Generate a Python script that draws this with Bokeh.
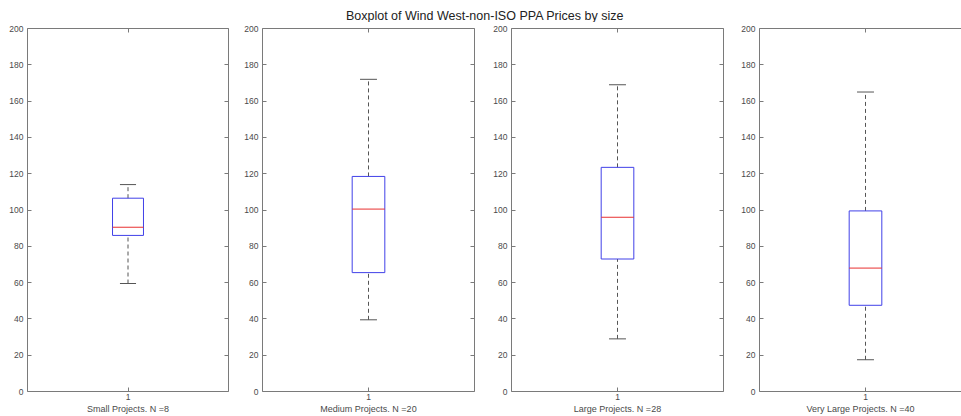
from bokeh.plotting import figure
from bokeh.layouts import row, column
from bokeh.models import ColumnDataSource, FixedTicker, LinearAxis, CustomJSTickFormatter, Range1d
from bokeh.core.properties import value
from bokeh.embed import file_html
from bokeh.resources import INLINE

TITLE = "Boxplot of Wind West-non-ISO PPA Prices by size"
categories = ["Small Projects", "Medium Projects", "Large Projects", "Very Large Projects"]
counts = [8, 20, 28, 40]
whisker_low = [59.5, 39.5, 29.0, 17.5]
q1 = [86.0, 65.5, 73.0, 47.5]
median = [90.5, 100.5, 96.0, 68.0]
q3 = [106.5, 118.5, 123.5, 99.5]
whisker_high = [114.0, 172.0, 169.0, 165.0]
y_ticks = [0, 20, 40, 60, 80, 100, 120, 140, 160, 180, 200]
x_ticks = [1]
x_tick_labels = {1: "1"}

FONT = "Liberation Sans"
TEXT_C = "#4a4a4a"
LINE_C = "#7a7a7a"
WHISK_C = "#555555"
BOX_C = "#4040e8"
MED_C = "#e83030"

# layout (pixels)
fig_w = [241, 249, 248, 223]
b_left = [27, 21, 21, 21]
b_right = [13, 16, 15, 0]
xr_end = [1.5, 1.5, 1.5, 0.5 + 202 / 212]

BOX_W = 0.154
CAP_HW = 0.04


def style(ax, ticks, labels=True):
    ax.ticker = FixedTicker(ticks=ticks)
    ax.major_tick_in = 4
    ax.major_tick_out = 0
    ax.minor_tick_in = 0
    ax.minor_tick_out = 0
    ax.major_tick_line_color = LINE_C
    ax.major_tick_line_width = 1
    ax.axis_line_color = None
    if labels:
        ax.major_label_text_font = FONT
        ax.major_label_text_font_size = "8.5px"
        ax.major_label_text_color = TEXT_C
    else:
        ax.formatter = CustomJSTickFormatter(code="return ''")
        ax.major_label_standoff = 0


figs = []
for i, cat in enumerate(categories):
    src = ColumnDataSource(dict(
        x=[1], lo=[whisker_low[i]], q1=[q1[i]], med=[median[i]],
        q3=[q3[i]], hi=[whisker_high[i]],
        cl=[1 - CAP_HW], cr=[1 + CAP_HW],
        bl=[1 - BOX_W / 2], br=[1 + BOX_W / 2],
    ))
    p = figure(width=fig_w[i], height=394, output_backend="svg", toolbar_location=None,
               x_range=Range1d(0.5, xr_end[i]), y_range=Range1d(0, 200),
               min_border_left=b_left[i], min_border_right=b_right[i],
               min_border_top=6, min_border_bottom=23, x_axis_type=None, y_axis_type=None)
    p.grid.visible = False
    p.background_fill_color = "white"
    p.border_fill_color = "white"

    # whiskers
    p.segment(x0="x", y0="q3", x1="x", y1="hi", source=src, line_color=WHISK_C,
              line_width=1, line_dash="4 3")
    p.segment(x0="x", y0="lo", x1="x", y1="q1", source=src, line_color=WHISK_C,
              line_width=1, line_dash="4 3")
    # caps
    p.segment(x0="cl", y0="hi", x1="cr", y1="hi", source=src, line_color=WHISK_C, line_width=1)
    p.segment(x0="cl", y0="lo", x1="cr", y1="lo", source=src, line_color=WHISK_C, line_width=1)
    # box
    p.quad(left="bl", right="br", bottom="q1", top="q3", source=src, fill_color=None,
           line_color=BOX_C, line_width=1)
    # median
    p.segment(x0="bl", y0="med", x1="br", y1="med", source=src, line_color=MED_C, line_width=1)

    left = LinearAxis()
    style(left, y_ticks)
    left.major_label_standoff = 4
    p.add_layout(left, "left")

    bottom = LinearAxis()
    style(bottom, x_ticks)
    bottom.major_label_overrides = x_tick_labels
    bottom.major_label_standoff = 2
    bottom.axis_label = f"{cat}. N ={counts[i]}"
    bottom.axis_label_text_font = FONT
    bottom.axis_label_text_font_size = "9px"
    bottom.axis_label_text_font_style = "normal"
    bottom.axis_label_text_color = TEXT_C
    bottom.axis_label_standoff = 1
    p.add_layout(bottom, "below")

    top = LinearAxis()
    style(top, x_ticks, labels=False)
    p.add_layout(top, "above")

    if i < 3:
        right = LinearAxis()
        style(right, y_ticks, labels=False)
        p.add_layout(right, "right")
        p.outline_line_color = LINE_C
        p.outline_line_width = 1
    else:
        p.outline_line_color = None
        for ax in (left, bottom, top):
            ax.axis_line_color = LINE_C
            ax.axis_line_width = 1
    figs.append(p)

pt = figure(width=961, height=22, output_backend="svg", toolbar_location=None,
            x_range=Range1d(0, 1), y_range=Range1d(0, 1), x_axis_type=None, y_axis_type=None,
            min_border_left=8, min_border_right=0, min_border_top=8, min_border_bottom=0)
pt.grid.visible = False
pt.outline_line_color = None
pt.background_fill_color = "white"
pt.border_fill_color = "white"
pt.text(x=[0.5], y=[0.5], text=[TITLE], text_align="center", text_baseline="middle",
        text_font=value(FONT), text_font_size="12.5px", text_color="#222222")

layout = column(pt, row(*figs, spacing=0), spacing=0)
open("out.html", "w").write(file_html(layout, INLINE))
